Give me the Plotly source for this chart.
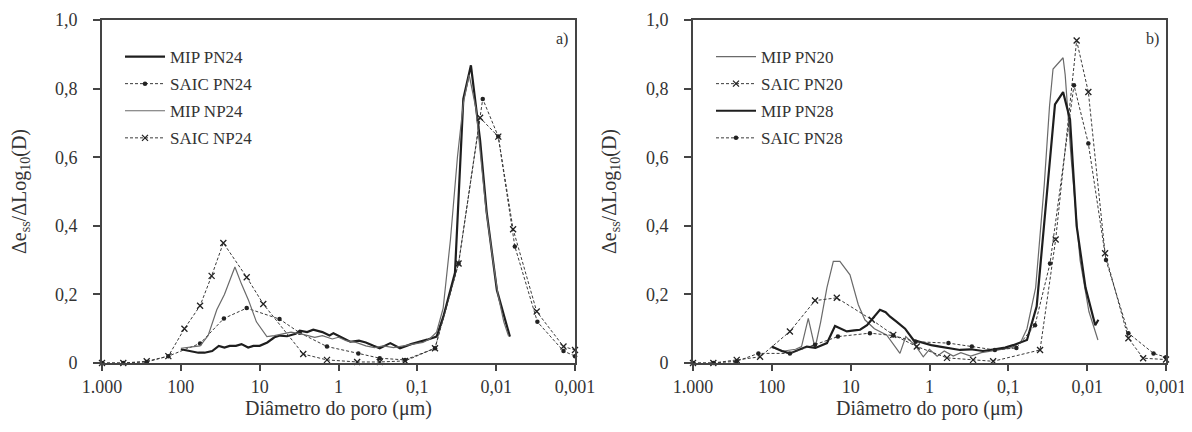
import plotly.graph_objects as go

# ---------------- Data (panel a) ----------------
mip_pn24_d = [100, 80, 60, 50, 40, 33, 28, 24, 20, 17, 14, 12, 10, 8, 6.5, 5.5, 4.5, 3.5, 3.1, 2.5, 2.09, 1.6,
              1.3, 1.16, 0.9, 0.71, 0.55, 0.45, 0.36, 0.30, 0.22, 0.166, 0.12, 0.092, 0.075, 0.057, 0.0468,
              0.0333, 0.0261, 0.0209, 0.016, 0.0132, 0.0098, 0.0067]
mip_pn24_y = [0.04, 0.035, 0.03, 0.03, 0.035, 0.05, 0.045, 0.05, 0.05, 0.055, 0.045, 0.05, 0.05, 0.06, 0.075,
              0.08, 0.078, 0.085, 0.094, 0.09, 0.097, 0.09, 0.08, 0.087, 0.075, 0.062, 0.065, 0.06, 0.05,
              0.043, 0.058, 0.043, 0.055, 0.062, 0.068, 0.077, 0.135, 0.263, 0.77, 0.868, 0.65, 0.44, 0.213, 0.077]

saic_pn24_d = [1000, 537, 271, 144, 57, 28.4, 14.6, 5.6, 3.1, 1.4, 0.56, 0.30, 0.143, 0.0597, 0.030, 0.0148,
               0.0094, 0.0058, 0.003, 0.0014, 0.001]
saic_pn24_y = [0, 0, 0.003, 0.02, 0.057, 0.13, 0.16, 0.128, 0.088, 0.048, 0.028, 0.014, 0.009, 0.043, 0.29,
               0.77, 0.66, 0.34, 0.12, 0.035, 0.02]

mip_np24_d = [100, 70, 57, 45, 38, 35, 28, 24, 20.6, 17, 13.9, 11, 8.1, 6.5, 5, 4, 3, 2.5, 2, 1.6, 1.2, 1.0,
              0.8, 0.6, 0.45, 0.35, 0.27, 0.2, 0.15, 0.11, 0.085, 0.07, 0.057, 0.047, 0.038, 0.031, 0.026,
              0.022, 0.018, 0.016, 0.0135, 0.011, 0.0095, 0.008, 0.007]
mip_np24_y = [0.043, 0.047, 0.05, 0.08, 0.13, 0.155, 0.2, 0.24, 0.28, 0.23, 0.184, 0.12, 0.077, 0.08, 0.085,
              0.09, 0.085, 0.08, 0.075, 0.08, 0.07, 0.075, 0.065, 0.06, 0.05, 0.045, 0.05, 0.045, 0.05, 0.055,
              0.06, 0.07, 0.09, 0.16, 0.36, 0.6, 0.76, 0.84, 0.74, 0.62, 0.45, 0.3, 0.2, 0.12, 0.08]

saic_np24_d = [1000, 537, 271, 144, 90, 57, 40.7, 28.9, 14.6, 9.0, 2.8, 1.4, 0.58, 0.30, 0.143, 0.0597, 0.030,
               0.016, 0.0094, 0.0061, 0.00306, 0.0014, 0.001]
saic_np24_y = [0, 0, 0.005, 0.02, 0.10, 0.167, 0.254, 0.35, 0.25, 0.172, 0.026, 0.009, 0.003, 0.003, 0.006,
               0.043, 0.29, 0.715, 0.66, 0.39, 0.15, 0.048, 0.038]

# ---------------- Data (panel b) ----------------
mip_pn20_d = [100, 70, 50, 42, 34.5, 28.3, 24, 20, 16.6, 13.7, 10.2, 8, 6.6, 5, 3.5, 2.37, 2.0, 1.5, 1.2, 1.0,
              0.8, 0.65, 0.5, 0.4, 0.3, 0.22, 0.16, 0.12, 0.09, 0.07, 0.058, 0.045, 0.035, 0.03, 0.0271,
              0.0202, 0.019, 0.016, 0.0123, 0.0095, 0.0073]
mip_pn20_y = [0.045, 0.035, 0.04, 0.048, 0.13, 0.043, 0.12, 0.22, 0.296, 0.296, 0.257, 0.17, 0.126, 0.1, 0.082,
              0.028, 0.077, 0.05, 0.018, 0.04, 0.02, 0.035, 0.02, 0.03, 0.02, 0.03, 0.035, 0.04, 0.045, 0.06,
              0.1, 0.22, 0.52, 0.75, 0.857, 0.89, 0.84, 0.6, 0.30, 0.15, 0.067]

saic_pn20_d = [1000, 552, 279, 141, 59, 28.3, 15, 5.4, 2.88, 1.45, 0.6, 0.28, 0.156, 0.0396, 0.0251, 0.0136,
               0.00966, 0.00593, 0.003, 0.00195, 0.001]
saic_pn20_y = [0, 0, 0.009, 0.018, 0.092, 0.182, 0.19, 0.126, 0.082, 0.048, 0.015, 0.009, 0.005, 0.038, 0.36,
               0.94, 0.79, 0.32, 0.072, 0.014, 0.01]

mip_pn28_d = [100, 75, 59, 45, 36, 28, 20, 15.8, 13, 11.2, 9, 7.6, 6.2, 5.4, 4.25, 3.6, 3.16, 2.6, 2.04, 1.6,
              1.2, 0.95, 0.74, 0.55, 0.41, 0.3, 0.21, 0.15, 0.11, 0.087, 0.058, 0.0437, 0.0343, 0.0256, 0.0202,
              0.0165, 0.0136, 0.0105, 0.0079, 0.0072]
mip_pn28_y = [0.048, 0.035, 0.028, 0.04, 0.048, 0.044, 0.058, 0.108, 0.1, 0.092, 0.095, 0.097, 0.11, 0.126,
              0.155, 0.148, 0.135, 0.12, 0.10, 0.067, 0.058, 0.052, 0.048, 0.042, 0.038, 0.04, 0.035, 0.04,
              0.045, 0.052, 0.067, 0.165, 0.44, 0.754, 0.79, 0.71, 0.40, 0.22, 0.11, 0.126]

saic_pn28_d = [1000, 552, 279, 148, 59, 28.3, 14.5, 5.7, 2.88, 1.5, 0.575, 0.29, 0.148, 0.079, 0.0459, 0.0296,
               0.0147, 0.00966, 0.00577, 0.003, 0.00144, 0.001]
saic_pn28_y = [0, 0, 0.005, 0.028, 0.028, 0.053, 0.077, 0.087, 0.08, 0.062, 0.058, 0.048, 0.038, 0.044, 0.11,
               0.29, 0.81, 0.64, 0.30, 0.087, 0.028, 0.017]

x_tickvals = [1000, 100, 10, 1, 0.1, 0.01, 0.001]
x_ticktext = ["1.000", "100", "10", "1", "0,1", "0,01", "0,001"]
y_tickvals = [0, 0.2, 0.4, 0.6, 0.8, 1.0]
y_ticktext = ["0", "0,2", "0,4", "0,6", "0,8", "1,0"]

FONT = "Liberation Serif, Times New Roman, serif"
TXT = "#333333"

THICK = dict(color="#1e1e1e", width=2.2)
THIN = dict(color="#6a6a6a", width=1.2)
DASH = dict(color="#3a3a3a", width=1, dash="3px,2px")

fig = go.Figure()

def add(d, y, name, style, axis, legend, marker=None):
    kw = dict(x=d, y=y, name=name, xaxis="x" if axis == 1 else "x2", yaxis="y" if axis == 1 else "y2",
              legend=legend, legendgroup=name, cliponaxis=False)
    if marker is None:
        fig.add_trace(go.Scatter(mode="lines", line=style, **kw))
    else:
        fig.add_trace(go.Scatter(mode="lines+markers", line=style, marker=marker, **kw))

DOT = dict(symbol="circle", size=4.5, color="#222222")
CROSS = dict(symbol="x-thin", size=6, line=dict(color="#222222", width=1.3), color="#222222")

add(mip_pn24_d, mip_pn24_y, "MIP PN24", THICK, 1, "legend")
add(saic_pn24_d, saic_pn24_y, "SAIC PN24", DASH, 1, "legend", DOT)
add(mip_np24_d, mip_np24_y, "MIP NP24", THIN, 1, "legend")
add(saic_np24_d, saic_np24_y, "SAIC NP24", DASH, 1, "legend", CROSS)

add(mip_pn20_d, mip_pn20_y, "MIP PN20", THIN, 2, "legend2")
add(saic_pn20_d, saic_pn20_y, "SAIC PN20", DASH, 2, "legend2", CROSS)
add(mip_pn28_d, mip_pn28_y, "MIP PN28", THICK, 2, "legend2")
add(saic_pn28_d, saic_pn28_y, "SAIC PN28", DASH, 2, "legend2", DOT)

W, H = 1192, 432
OFF = 8  # page body margin
xd1 = [(102 - OFF) / W, (575 - OFF) / W]
xd2 = [(693 - OFF) / W, (1166 - OFF) / W]
yd = [1 - (363 - OFF) / H, 1 - (20 - OFF) / H]

xcommon = dict(type="log", range=[3, -3], tickvals=x_tickvals, ticktext=x_ticktext, ticks="outside",
               ticklen=6, tickwidth=1.5, tickcolor="#444", showline=True, linecolor="#444", linewidth=1.8,
               mirror=True, showgrid=False, zeroline=False, automargin=False,
               tickfont=dict(family=FONT, size=18, color=TXT),
               title=dict(text="Diâmetro do poro (μm)", font=dict(family=FONT, size=20, color=TXT), standoff=4))
ycommon = dict(range=[0, 1.0], tickvals=y_tickvals, ticktext=y_ticktext, ticks="outside", ticklen=7,
               tickwidth=1.5, tickcolor="#444", showline=True, linecolor="#444", linewidth=1.8, mirror=True,
               showgrid=False, zeroline=False, ticklabelstandoff=12, automargin=False,
               tickfont=dict(family=FONT, size=18, color=TXT),
               title=dict(text="Δe<sub>ss</sub>/ΔLog<sub>10</sub>(D)", font=dict(family=FONT, size=20, color=TXT),
                          standoff=24))

legcommon = dict(font=dict(family=FONT, size=17, color=TXT), bgcolor="rgba(0,0,0,0)", borderwidth=0,
                 tracegroupgap=2, itemwidth=40, xanchor="left", yanchor="top")

fig.update_layout(
    width=W, height=H, margin=dict(l=0, r=0, t=0, b=0, autoexpand=False),
    paper_bgcolor="white", plot_bgcolor="white",
    xaxis=dict(domain=xd1, anchor="y", **xcommon),
    yaxis=dict(domain=yd, anchor="x", **ycommon),
    xaxis2=dict(domain=xd2, anchor="y2", **xcommon),
    yaxis2=dict(domain=yd, anchor="x2", **ycommon),
    legend=dict(x=112 / W, y=1 - 31 / H, **legcommon),
    legend2=dict(x=(112 + 591) / W, y=1 - 31 / H, **legcommon),
    annotations=[
        dict(text="a)", xref="x domain", yref="y domain", x=0.99, y=0.945, xanchor="right", yanchor="middle",
             showarrow=False, font=dict(family=FONT, size=16, color=TXT)),
        dict(text="b)", xref="x2 domain", yref="y2 domain", x=0.99, y=0.945, xanchor="right", yanchor="middle",
             showarrow=False, font=dict(family=FONT, size=16, color=TXT)),
    ],
)

fig.write_html("out.html")
